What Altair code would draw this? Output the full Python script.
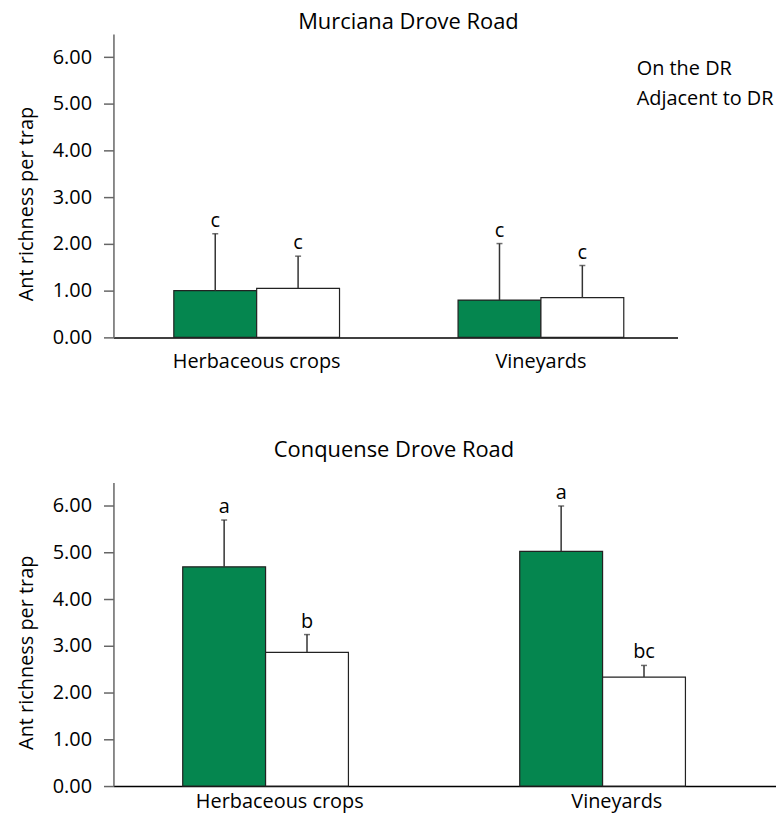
import altair as alt
import pandas as pd

FONT = "Open Sans"
GREEN = "#05864F"

crops = ["Herbaceous crops", "Vineyards"]
series = ["On the DR", "Adjacent to DR"]

murciana_on = [1.00, 0.80]
murciana_on_se = [1.22, 1.21]
murciana_adj = [1.05, 0.85]
murciana_adj_se = [0.69, 0.69]
murciana_letters_on = ["c", "c"]
murciana_letters_adj = ["c", "c"]

conquense_on = [4.69, 5.02]
conquense_on_se = [1.00, 0.97]
conquense_adj = [2.86, 2.33]
conquense_adj_se = [0.38, 0.25]
conquense_letters_on = ["a", "a"]
conquense_letters_adj = ["b", "bc"]

y_ticks = [0, 1, 2, 3, 4, 5, 6]
FS = 20
TFS = 22


def make_df(on, on_se, adj, adj_se, l_on, l_adj):
    rows = []
    for i, c in enumerate(crops):
        rows.append({"crop": c, "series": series[0], "value": on[i],
                     "upper": on[i] + on_se[i], "letter": l_on[i]})
        rows.append({"crop": c, "series": series[1], "value": adj[i],
                     "upper": adj[i] + adj_se[i], "letter": l_adj[i]})
    return pd.DataFrame(rows)


def panel(df, title, width, height, ymax, p_in, p_out, align, title_dx,
          title_offset, x_label_pad, show_legend):
    x = alt.X("crop:N", sort=crops,
              scale=alt.Scale(paddingInner=p_in, paddingOuter=p_out, align=align),
              axis=alt.Axis(title=None, labelAngle=0, ticks=False,
                            labelFontSize=FS, labelFont=FONT, labelColor="black",
                            labelPadding=x_label_pad, domainColor="black",
                            domainWidth=1.5))
    xo = alt.XOffset("series:N", sort=series,
                     scale=alt.Scale(paddingInner=0, paddingOuter=0))
    yscale = alt.Scale(domain=[0, ymax], nice=False, zero=True)
    yaxis = alt.Axis(values=y_ticks, format=".2f",
                     title="Ant richness per trap",
                     titleFontSize=FS, titleFont=FONT,
                     titleFontWeight="normal", titleColor="black",
                     titlePadding=16, titleY=height / 2 + 18,
                     labelFontSize=FS, labelFont=FONT,
                     labelColor="black", labelPadding=12,
                     tickSize=10, tickColor="#666", tickWidth=1.5,
                     domainColor="#666", domainWidth=1.5)
    if show_legend:
        legend = alt.Legend(title=None, orient="none", legendX=506, legendY=25,
                            symbolSize=0, symbolOpacity=0, symbolStrokeWidth=0,
                            labelFontSize=FS, labelFont=FONT, labelColor="black",
                            labelOffset=0, rowPadding=10, padding=0)
    else:
        legend = None
    color = alt.Color("series:N", sort=series,
                      scale=alt.Scale(domain=series, range=[GREEN, "white"]),
                      legend=legend)
    base = alt.Chart(df)
    bars = base.mark_bar(stroke="#222", strokeWidth=1.2).encode(
        x=x, xOffset=xo,
        y=alt.Y("value:Q", scale=yscale, axis=yaxis),
        color=color,
    )
    rules = base.mark_rule(color="#333", strokeWidth=1.5).encode(
        x=x, xOffset=xo,
        y=alt.Y("value:Q", scale=yscale, axis=yaxis),
        y2="upper:Q",
    )
    caps = base.mark_tick(color="#333", thickness=1.5, size=6).encode(
        x=x, xOffset=xo,
        y=alt.Y("upper:Q", scale=yscale, axis=yaxis),
    )
    letters = base.mark_text(dy=-7, fontSize=FS, font=FONT, color="black",
                             baseline="alphabetic").encode(
        x=x, xOffset=xo,
        y=alt.Y("upper:Q", scale=yscale, axis=yaxis),
        text="letter:N",
    )
    return alt.layer(bars, rules, caps, letters).properties(
        width=width, height=height,
        title=alt.TitleParams(title, fontSize=TFS, font=FONT,
                              fontWeight="normal", color="black",
                              anchor="middle", dx=title_dx, offset=title_offset),
    )


df_m = make_df(murciana_on, murciana_on_se, murciana_adj, murciana_adj_se,
               murciana_letters_on, murciana_letters_adj)
df_c = make_df(conquense_on, conquense_on_se, conquense_adj, conquense_adj_se,
               conquense_letters_on, conquense_letters_adj)

top = panel(df_m, "Murciana Drove Road", 567, 305, 6.50, 0.417, 0.2007, 0.529,
            13, 0, 14, True)
bottom = panel(df_c, "Conquense Drove Road", 666, 305, 6.49, 0.424, 0.195, 0.527,
               -51, 21, 6, False)

chart = alt.vconcat(top, bottom, spacing=68).resolve_scale(
    color="independent", x="independent", y="independent"
).properties(
    padding={"left": 8, "top": 1, "right": 0, "bottom": 0}
).configure_view(stroke=None).configure_axis(grid=False)

chart.save("out.html", embed_options={"renderer": "svg", "actions": False})
